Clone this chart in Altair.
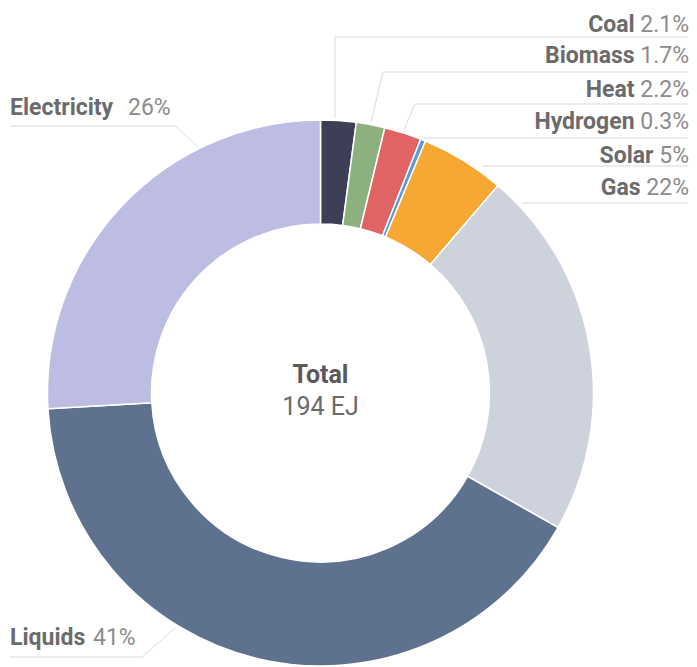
import math
import altair as alt
import pandas as pd

# ---------------- data ----------------
categories = ["Coal", "Biomass", "Heat", "Hydrogen", "Solar", "Gas", "Liquids", "Electricity"]
shares = [2.1, 1.7, 2.2, 0.3, 5.0, 22.0, 41.0, 26.0]
pct_labels = ["2.1%", "1.7%", "2.2%", "0.3%", "5%", "22%", "41%", "26%"]
colors = ["#3d3f57", "#8db07f", "#e06464", "#5b9bd5", "#f7a832", "#cdd2dc", "#5e728f", "#bdbce3"]
center_title = "Total"
center_value = "194 EJ"

# ---------------- layout ----------------
W, H = 681, 659
CX, CY = 312.5, 385
R_OUT, R_IN = 273, 169
R_LEAD = 276
FS = 23
RIGHT_X = 681
LINE_END = 680

# per label: side, text baseline y, leader y, elbow x, anchor ("mid", angle in degrees, or None)
label_layout = {
    "Coal":        dict(side="R", ty=24,  ly=29,  ex="anchor", anchor=3.0),
    "Biomass":     dict(side="R", ty=55,  ly=64,  ex=375, anchor="mid"),
    "Heat":        dict(side="R", ty=89,  ly=96,  ex=407, anchor="mid"),
    "Hydrogen":    dict(side="R", ty=121, ly=130, ex=415, anchor=None),
    "Solar":       dict(side="R", ty=155, ly=158, ex=474, anchor=None),
    "Gas":         dict(side="R", ty=187, ly=195, ex=514, anchor=None),
    "Electricity": dict(side="L", ty=107, ly=118, ex=167, anchor=333.5, lx=2, px=120),
    "Liquids":     dict(side="L", ty=637, ly=649, ex=134, anchor=211.7, lx=2, px=85),
}

# approximate Roboto advance widths (em) for percentage strings
CW = {d: 0.5615 for d in "0123456789"}
CW.update({".": 0.2632, "%": 0.7329, " ": 0.2476})


def str_w(s):
    return sum(CW.get(c, 0.56) for c in s) * FS


total = sum(shares)
cum = 0.0
mids = {}
for c, s in zip(categories, shares):
    mids[c] = (cum + s / 2) / total * 360.0
    cum += s

arc_df = pd.DataFrame({"category": categories, "share": shares, "idx": list(range(len(categories)))})

segs = []
texts = []
for c, p in zip(categories, pct_labels):
    L = label_layout[c]
    ang = None
    if L["anchor"] == "mid":
        ang = mids[c]
    elif L["anchor"] is not None:
        ang = L["anchor"]
    ax = ay = None
    if ang is not None:
        ax = CX + R_LEAD * math.sin(math.radians(ang))
        ay = CY - R_LEAD * math.cos(math.radians(ang))
    ex = ax if L["ex"] == "anchor" else L["ex"]
    if L["side"] == "R":
        segs.append(dict(x=ex, y=L["ly"], x2=LINE_END, y2=L["ly"]))
        pw = str_w(p)
        texts.append(dict(text=c, x=RIGHT_X - pw - CW[" "] * FS, y=L["ty"], kind="name", side="R"))
        texts.append(dict(text=p, x=RIGHT_X, y=L["ty"], kind="pct", side="R"))
    else:
        segs.append(dict(x=L["lx"], y=L["ly"], x2=ex, y2=L["ly"]))
        texts.append(dict(text=c, x=L["lx"], y=L["ty"], kind="name", side="L"))
        texts.append(dict(text=p, x=L["px"], y=L["ty"], kind="pct", side="L"))
    if ang is not None:
        segs.append(dict(x=ex, y=L["ly"], x2=ax, y2=ay))

seg_df = pd.DataFrame(segs)
txt_df = pd.DataFrame(texts)

X = lambda f: alt.X(f, scale=None, axis=None)
Y = lambda f: alt.Y(f, scale=None, axis=None)

arcs = alt.Chart(arc_df).mark_arc(
    innerRadius=R_IN, outerRadius=R_OUT, stroke="white", strokeWidth=1.5
).encode(
    theta=alt.Theta("share:Q", stack=True),
    color=alt.Color("category:N", scale=alt.Scale(domain=categories, range=colors), legend=None),
    order=alt.Order("idx:Q"),
    x=alt.value(CX),
    y=alt.value(CY),
)

leaders = alt.Chart(seg_df).mark_rule(color="#dadada", strokeWidth=1).encode(
    x=X("x:Q"), y=Y("y:Q"), x2="x2:Q", y2="y2:Q"
)


def text_layer(kind, side, align, weight, color):
    return alt.Chart(txt_df).transform_filter(
        (alt.datum.kind == kind) & (alt.datum.side == side)
    ).mark_text(
        align=align, baseline="alphabetic", font="Roboto", fontSize=FS,
        fontWeight=weight, color=color
    ).encode(x=X("x:Q"), y=Y("y:Q"), text="text:N")


name_r = text_layer("name", "R", "right", "bold", "#6b6b6b")
pct_r = text_layer("pct", "R", "right", "normal", "#8c8c8c")
name_l = text_layer("name", "L", "left", "bold", "#6b6b6b")
pct_l = text_layer("pct", "L", "left", "normal", "#8c8c8c")

center_df = pd.DataFrame({
    "text": [center_title, center_value],
    "y": [CY - 10, CY + 22],
    "w": ["bold", "normal"],
})
c_title = alt.Chart(center_df).transform_filter(alt.datum.w == "bold").mark_text(
    align="center", baseline="alphabetic", font="Roboto", fontSize=25, fontWeight="bold", color="#5a5a5a"
).encode(x=alt.value(CX), y=Y("y:Q"), text="text:N")
c_value = alt.Chart(center_df).transform_filter(alt.datum.w == "normal").mark_text(
    align="center", baseline="alphabetic", font="Roboto", fontSize=25, fontWeight="normal", color="#6b6b6b"
).encode(x=alt.value(CX), y=Y("y:Q"), text="text:N")

chart = alt.layer(arcs, leaders, name_r, pct_r, name_l, pct_l, c_title, c_value).properties(
    width=W, height=H, padding=0, autosize=alt.AutoSizeParams(type="none")
).configure_view(stroke=None)

chart.save("out.html", embed_options={"renderer": "svg", "actions": False})
